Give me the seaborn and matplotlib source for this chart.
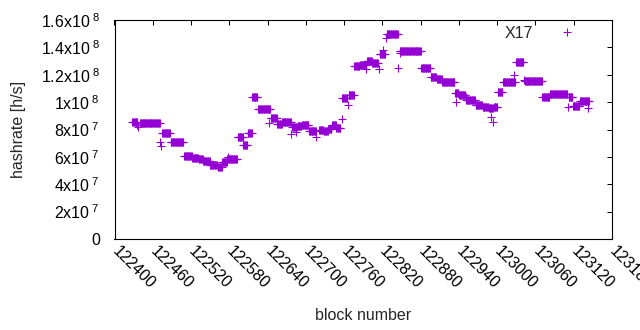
import numpy as np
import pandas as pd
import matplotlib
matplotlib.use("Agg")
import matplotlib.pyplot as plt
from matplotlib.lines import Line2D
import seaborn as sns

# ---- data (hashrate in units of 1e7 h/s) ----
run_start = [122428, 122440, 122475, 122488, 122509, 122522, 122532, 122539, 122550, 122562,
             122569, 122577, 122593, 122602, 122609, 122616, 122625, 122645, 122655, 122663,
             122679, 122687, 122694, 122705, 122721, 122728, 122735, 122741, 122748, 122757,
             122767, 122776, 122785, 122796, 122804, 122816, 122827, 122847, 122881, 122896,
             122905, 122914, 122934, 122940, 122951, 122966, 122977, 122987, 122995, 123001,
             123009, 123030, 123043, 123071, 123083, 123112, 123119, 123130]
run_end = [122435, 122471, 122487, 122508, 122521, 122531, 122538, 122549, 122561, 122568,
           122576, 122592, 122601, 122608, 122615, 122624, 122644, 122654, 122662, 122676,
           122686, 122693, 122704, 122716, 122727, 122734, 122740, 122747, 122754, 122765,
           122775, 122784, 122795, 122803, 122813, 122824, 122844, 122880, 122895, 122904,
           122913, 122933, 122939, 122950, 122965, 122976, 122986, 122993, 123000, 123008,
           123028, 123041, 123070, 123082, 123110, 123118, 123129, 123144]
run_value = [8.53, 8.45, 7.72, 7.11, 6.09, 5.90, 5.82, 5.70, 5.41, 5.28,
             5.65, 5.82, 7.43, 6.87, 7.72, 10.35, 9.48, 8.82, 8.38, 8.53,
             8.16, 8.26, 8.33, 7.87, 7.96, 7.89, 8.06, 8.31, 8.11, 10.28,
             10.50, 12.64, 12.71, 13.00, 12.88, 13.52, 14.96, 13.71, 12.47, 11.86,
             11.67, 11.45, 10.64, 10.52, 10.16, 9.79, 9.67, 9.55, 9.67, 10.72,
             11.49, 12.91, 11.54, 10.35, 10.59, 10.35, 9.70, 10.10]

pt_block = [122436, 122437, 122472, 122473, 122578, 122643, 122677, 122685, 122716, 122756,
            122766, 122795, 122815, 122821, 122826, 122845, 122848, 122935, 122951, 122991,
            122994, 123027, 123042, 123111, 123142]
pt_value = [8.35, 8.15, 7.11, 6.76, 6.01, 8.50, 7.67, 7.84, 7.47, 8.75,
            9.79, 12.40, 12.40, 13.81, 14.66, 12.47, 13.57, 10.03, 10.40, 8.94,
            8.57, 11.98, 11.62, 9.62, 9.55]

x_ticks = list(range(122400, 123181, 60))
y_ticks = [0, 2e7, 4e7, 6e7, 8e7, 1e8, 1.2e8, 1.4e8, 1.6e8]
y_ticklabels = ["0", "2x10$^{\\ 7}$", "4x10$^{\\ 7}$", "6x10$^{\\ 7}$", "8x10$^{\\ 7}$",
                "1x10$^{\\ 8}$", "1.2x10$^{\\ 8}$", "1.4x10$^{\\ 8}$", "1.6x10$^{\\ 8}$"]

# ---- build table ----
blocks, values = [], []
for s, e, v in zip(run_start, run_end, run_value):
    for b in range(s, e + 1):
        blocks.append(b)
        values.append(v * 1e7)
blocks += pt_block
values += [v * 1e7 for v in pt_value]
df = pd.DataFrame({"block": blocks, "hashrate": values})

sns.set_theme(style="white")
plt.rcParams["font.family"] = ["Liberation Sans", "DejaVu Sans"]
plt.rcParams["mathtext.fontset"] = "custom"
plt.rcParams["mathtext.rm"] = "Liberation Sans"
plt.rcParams["mathtext.it"] = "Liberation Sans:italic"
plt.rcParams["mathtext.bf"] = "Liberation Sans:bold"

W, H = 640, 330
fig = plt.figure(figsize=(W / 100, H / 100), dpi=100)
L, R, T, B = 114.5, 612, 20, 239
ax = fig.add_axes([L / W, 1 - B / H, (R - L) / W, (B - T) / H])

color = "#9400d3"
sns.scatterplot(data=df, x="block", y="hashrate", marker="+", color=color,
                s=30, linewidth=0.8, ax=ax, legend=False)

ax.set_xlim(122400, 123180)
ax.set_ylim(0, 1.6e8)
ax.set_xticks(x_ticks)
ax.set_yticks(y_ticks)
ax.set_yticklabels(y_ticklabels)
ax.set_xticklabels([str(t) for t in x_ticks], rotation=-45, ha="left", va="center",
                   rotation_mode="anchor")
ax.tick_params(direction="in", top=True, right=True, length=3.3, width=0.75,
               labelsize=11.5, colors="black")
ax.tick_params(axis="y", pad=10.5)
ax.tick_params(axis="x", pad=7)
for sp in ax.spines.values():
    sp.set_color("black")
    sp.set_linewidth(0.8)
ax.set_xlabel("")
ax.set_ylabel("")

fig.text(18.5 / W, 1 - 129 / H, "hashrate [h/s]", rotation=90, ha="center", va="center",
         fontsize=11.5)
fig.text((L + R) / 2 / W, 1 - 316 / H, "block number", ha="center", va="center",
         fontsize=11.5)

handle = Line2D([], [], marker="+", color=color, linestyle="none", markersize=5.5,
                markeredgewidth=0.8)
ax.legend([handle], ["X17"], loc="upper right", bbox_to_anchor=(0.952, 0.974),
          frameon=False, markerfirst=False, handlelength=2.67, handletextpad=0.8,
          borderaxespad=0, borderpad=0, fontsize=11.5, numpoints=1)

fig.savefig("out.png", dpi=100)
